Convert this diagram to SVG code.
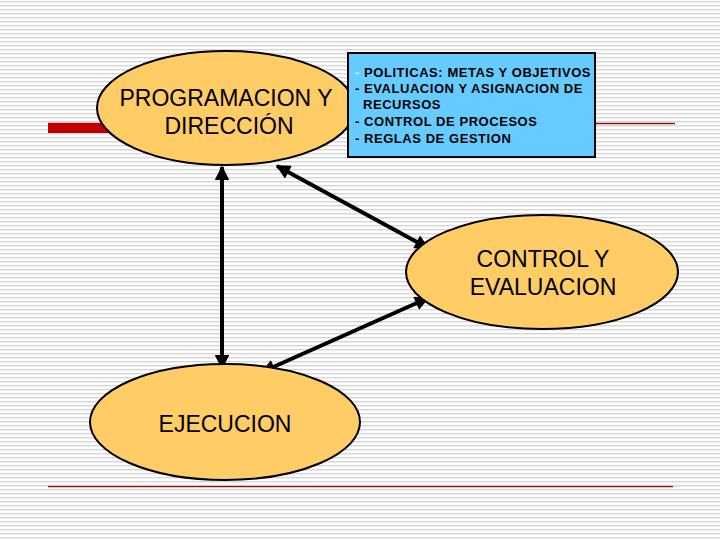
<svg xmlns="http://www.w3.org/2000/svg" width="720" height="540" viewBox="0 0 720 540">
  <defs>
    <pattern id="bg" x="0" y="0" width="720" height="4" patternUnits="userSpaceOnUse">
      <rect x="0" y="0" width="720" height="4" fill="#ffffff"/>
      <rect x="0" y="1" width="720" height="1.4" fill="#d6d6d6"/>
    </pattern>
    <marker id="ah" viewBox="0 0 10 10" refX="9" refY="5" markerWidth="4" markerHeight="3.6" orient="auto-start-reverse" markerUnits="strokeWidth">
      <path d="M0,0 L10,5 L0,10 z" fill="#000"/>
    </marker>
  </defs>
  <style>
    .node { fill: #ffcc66; stroke: #000; stroke-width: 2; }
    .big { font-family: "Liberation Sans", Arial, sans-serif; font-size: 23px; fill: #000; text-anchor: middle; }
    .box { font-family: "Liberation Sans", Arial, sans-serif; font-size: 13px; font-weight: bold; fill: #000; letter-spacing: 0.55px; }
    .conn { stroke: #000; stroke-width: 4; fill: none; marker-start: url(#ah); marker-end: url(#ah); }
  </style>
  <rect x="0" y="0" width="720" height="540" fill="url(#bg)"/>

  <g id="decor">
    <line x1="48" y1="123.5" x2="675" y2="123.5" stroke="#f4c0c0" stroke-width="3"/>
    <line x1="48" y1="123.5" x2="675" y2="123.5" stroke="#7a1010" stroke-width="1.2"/>
    <rect x="48" y="123" width="62" height="10" fill="#c00000"/>
    <line x1="48" y1="486.5" x2="673" y2="486.5" stroke="#f4c0c0" stroke-width="3"/>
    <line x1="48" y1="486.5" x2="673" y2="486.5" stroke="#7a1010" stroke-width="1.2"/>
  </g>

  <g id="connectors">
    <line class="conn" x1="222" y1="167" x2="222" y2="368"/>
    <line class="conn" x1="277" y1="166" x2="428" y2="248"/>
    <line class="conn" x1="262" y1="372" x2="428" y2="298"/>
  </g>

  <g id="programacion">
    <ellipse class="node" cx="226" cy="108" rx="129" ry="57"/>
    <text class="big" x="226" y="106">PROGRAMACION Y</text>
    <text class="big" x="229" y="134">DIRECCIÓN</text>
  </g>

  <g id="politicas">
    <rect x="348" y="53" width="247" height="104" fill="#66ccff" stroke="#000" stroke-width="2"/>
    <text class="box" x="355" y="77"><tspan fill="#ccf2ff">-</tspan> POLITICAS: METAS Y OBJETIVOS</text>
    <text class="box" x="355" y="93">- EVALUACION Y ASIGNACION DE</text>
    <text class="box" x="363" y="109">RECURSOS</text>
    <text class="box" x="355" y="126">- CONTROL DE PROCESOS</text>
    <text class="box" x="355" y="143">- REGLAS DE GESTION</text>
  </g>

  <g id="control">
    <ellipse class="node" cx="542" cy="272" rx="136" ry="57"/>
    <text class="big" x="543" y="267">CONTROL Y</text>
    <text class="big" x="543" y="295">EVALUACION</text>
  </g>

  <g id="ejecucion">
    <ellipse class="node" cx="225" cy="422" rx="135" ry="58"/>
    <text class="big" x="225" y="432">EJECUCION</text>
  </g>
</svg>
